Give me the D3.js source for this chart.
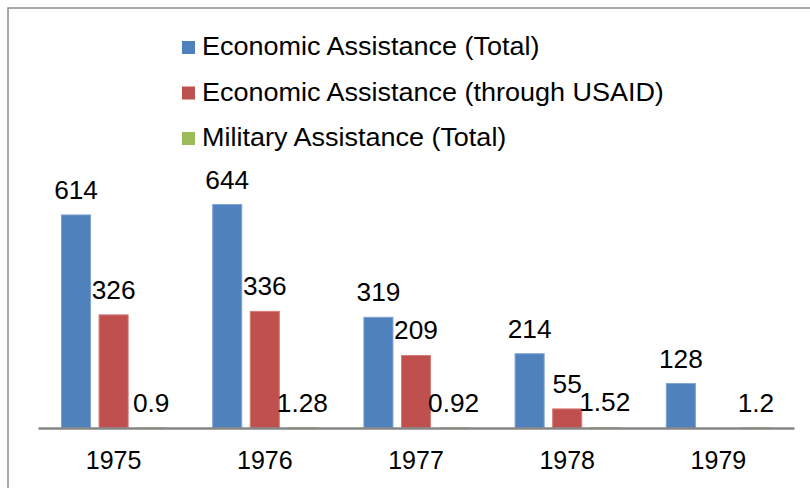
<!DOCTYPE html>
<html><head><meta charset="utf-8">
<script src="https://cdn.jsdelivr.net/npm/d3@7"></script>
<style>body{margin:0;background:#fff}svg{display:block}text{font-family:"Liberation Sans",Arial,sans-serif;fill:#000}</style>
</head><body><svg id="c" width="810" height="488"></svg>
<script>
const years = ["1975","1976","1977","1978","1979"];
const seriesNames = ["Economic Assistance (Total)","Economic Assistance (through USAID)","Military Assistance (Total)"];
const econTotal = [614, 644, 319, 214, 128];
const econUSAID = [326, 336, 209, 55, null];
const military = [0.9, 1.28, 0.92, 1.52, 1.2];
const colors = ["#4F81BD","#C0504D","#9BBB59"];
const strokes = ["#7EA1D3","#D57B79","#B9D08A"];

const svg = d3.select("#c");
svg.append("rect").attr("x",8).attr("y",8).attr("width",820).attr("height",500)
  .attr("fill","#fff").attr("stroke","#8c8c8c").attr("stroke-width",1.5);

const x0 = d3.scaleBand().domain(years).range([38,794]).paddingInner(0).paddingOuter(0);
const x1 = d3.scaleBand().domain(d3.range(3)).range([23, x0.bandwidth()-23]).paddingInner(0.2).paddingOuter(0);
const y = d3.scaleLinear().domain([0,700]).range([428, 428-0.347*700]);

const all = [econTotal, econUSAID, military];
const data = [];
years.forEach((yr,i)=>all.forEach((s,j)=>{ if(s[i]!=null) data.push({yr, j, v:s[i]}); }));

const g = svg.append("g");
g.selectAll("rect.bar").data(data).join("rect").attr("class","bar")
  .attr("x", d=>x0(d.yr)+x1(d.j)+0.5).attr("width", x1.bandwidth()-1)
  .attr("y", d=>y(d.v)).attr("height", d=>y(0)-y(d.v))
  .attr("fill", d=>colors[d.j]).attr("stroke", d=>strokes[d.j]).attr("stroke-width",1);

g.selectAll("text.lab").data(data).join("text").attr("class","lab")
  .attr("transform", d=>`translate(${x0(d.yr)+x1(d.j)+x1.bandwidth()/2},${y(d.v)-16}) scale(1.05,1)`)
  .attr("text-anchor","middle").attr("font-size",25)
  .text(d=>d.v);

const xAxis = d3.axisBottom(x0).tickSize(0).tickPadding(0);
const ax = svg.append("g").attr("transform",`translate(0,${y(0)})`).call(xAxis);
ax.select(".domain").attr("stroke","#868686").attr("stroke-width",2.5);
ax.selectAll(".tick text").attr("font-size",25).attr("dy",null).attr("y",41)
  .style("font-family","'Liberation Sans',Arial,sans-serif").attr("fill","#000");

const leg = svg.append("g");
seriesNames.forEach((n,i)=>{
  const yy = 55 + i*45.5;
  leg.append("rect").attr("x",182).attr("y",yy-14).attr("width",13).attr("height",13).attr("fill",colors[i]);
  leg.append("text").attr("transform",`translate(202,${yy}) scale(1.08,1)`).attr("font-size",25).text(n);
});
</script></body></html>
